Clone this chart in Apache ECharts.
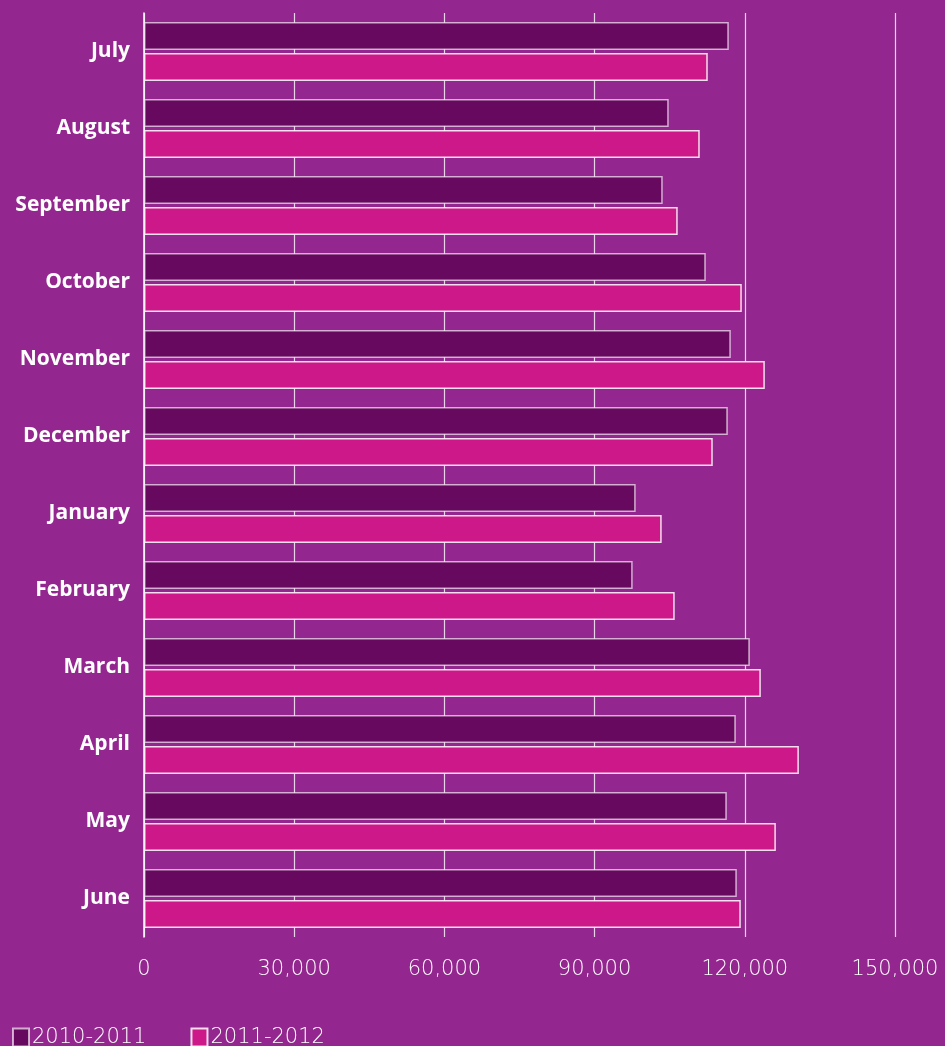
<!DOCTYPE html>
<html>
<head>
<meta charset="utf-8">
<style>
html,body{margin:0;padding:0;background:#93278F;}
#c{width:945px;height:1046px;}
</style>
<script src="https://cdn.jsdelivr.net/npm/echarts@6/dist/echarts.min.js"></script>
</head>
<body>
<div id="c"></div>
<script>
const months = ['July','August','September','October','November','December','January','February','March','April','May','June'];
const series2010 = [116800, 104800, 103600, 112200, 117200, 116600, 98200, 97600, 121000, 118200, 116400, 118400];
const series2011 = [112600, 111000, 106600, 119400, 124000, 113600, 103400, 106000, 123200, 130800, 126200, 119200];
const xTicks = [0, 30000, 60000, 90000, 120000, 150000];

const chart = echarts.init(document.getElementById('c'));
chart.setOption({
  backgroundColor: '#93278F',
  animation: false,
  grid: {left: 144, right: 50, top: 13, bottom: 109, containLabel: false},
  legend: {
    left: 12, top: 1027, padding: 0, itemWidth: 16, itemHeight: 18, itemGap: 44,
    icon: 'rect',
    textStyle: {color: '#fff', fontSize: 21, fontFamily: 'DejaVu Sans', fontWeight: 200, padding: [0,0,0,-2]},
    data: ['2010-2011', '2011-2012']
  },
  xAxis: {
    type: 'value', min: 0, max: 150000, interval: 30000,
    axisLine: {show: false},
    axisTick: {show: false},
    splitLine: {lineStyle: {color: 'rgba(255,255,255,0.8)', width: 1.2}},
    axisLabel: {
      color: '#fff', fontSize: 21, fontFamily: 'DejaVu Sans', fontWeight: 200, margin: 22,
      formatter: v => xTicks.includes(v) ? v.toLocaleString('en-US') : ''
    }
  },
  yAxis: {
    type: 'category', data: months, inverse: true,
    axisLine: {show: true, lineStyle: {color: '#fff', width: 1.5}},
    axisTick: {show: false},
    axisLabel: {color: '#fff', fontSize: 21, fontWeight: 'bold', fontFamily: 'Open Sans', margin: 14, offset: [0,-4]}
  },
  series: [
    {
      name: '2010-2011', type: 'bar', data: series2010, barWidth: 28, barGap: '10%',
      itemStyle: {color: '#670A5F', borderColor: 'rgba(255,255,255,0.65)', borderWidth: 1.5}
    },
    {
      name: '2011-2012', type: 'bar', data: series2011, barWidth: 28,
      itemStyle: {color: '#CC1889', borderColor: 'rgba(255,255,255,0.85)', borderWidth: 1.5}
    }
  ]
});
</script>
</body>
</html>
